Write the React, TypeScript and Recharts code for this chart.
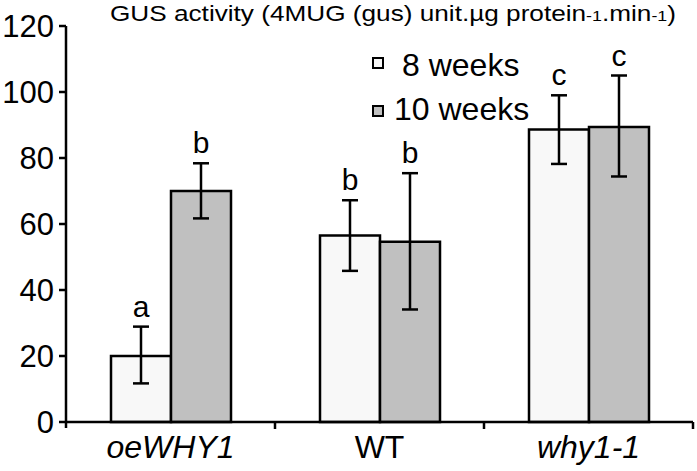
import React from "react";
import { BarChart, Bar, XAxis, YAxis, ErrorBar, LabelList } from "recharts";

const categories = ["oeWHY1", "WT", "why1-1"];
const weeks8 = [20, 56.5, 88.6];
const weeks10 = [70, 54.6, 89.4];
// [minus, plus] error for each bar
const err8: [number, number][] = [
  [8.3, 8.9],
  [10.7, 10.7],
  [10.4, 10.4],
];
const err10: [number, number][] = [
  [8.3, 8.4],
  [20.5, 20.8],
  [15, 15.6],
];
const letters8 = ["a", "b", "c"];
const letters10 = ["b", "b", "c"];
const yTicks = [0, 20, 40, 60, 80, 100, 120];
const seriesNames = ["8 weeks", "10 weeks"];
const seriesFills = ["#f8f8f8", "#c0c0c0"];

const data = categories.map((name, i) => ({
  name,
  w8: weeks8[i],
  w10: weeks10[i],
  e8: err8[i],
  e10: err10[i],
  l8: letters8[i],
  l10: letters10[i],
}));

const FONT = "'Liberation Sans', Arial, sans-serif";

const XTick = (props: any) => {
  const { x, y, payload, index } = props;
  const half = payload?.offset ?? 104.5;
  const italic = payload.value !== "WT";
  return (
    <g>
      <line x1={x + half} x2={x + half} y1={y} y2={y + 7} stroke="#000" strokeWidth={2.5} />
      {index === 0 && (
        <line x1={x - half} x2={x - half} y1={y} y2={y + 6} stroke="#000" strokeWidth={2.5} />
      )}
      <text
        x={x}
        y={y + 36}
        textAnchor="middle"
        fontSize={32}
        fontFamily={FONT}
        fontStyle={italic ? "italic" : "normal"}
        fill="#000"
      >
        {payload.value}
      </text>
    </g>
  );
};

const makeLetter = (vals: number[], errs: [number, number][], letters: string[]) =>
  (p: any) => {
    const { x, y, width, height, index } = p;
    const perUnit = height / vals[index];
    const top = y - errs[index][1] * perUnit;
    return (
      <text
        x={x + width / 2}
        y={top - 10}
        textAnchor="middle"
        fontSize={30}
        fontFamily={FONT}
        fill="#000"
      >
        {letters[index]}
      </text>
    );
  };

const App = () => {
  return (
    <div style={{ position: "absolute", left: 0, top: 0, width: 697, height: 471, background: "#fff" }}>
      <BarChart
        width={697}
        height={471}
        data={data}
        margin={{ top: 26, right: 4, left: 0, bottom: 0 }}
        barSize={60}
        barGap={0}
      >
        <XAxis
          dataKey="name"
          height={49}
          axisLine={{ stroke: "#000", strokeWidth: 2.5 }}
          tickLine={false}
          tickSize={0}
          tickMargin={0}
          tick={<XTick />}
          interval={0}
        />
        <YAxis
          width={66}
          domain={[0, 120]}
          ticks={yTicks}
          interval={0}
          axisLine={{ stroke: "#000", strokeWidth: 2.5 }}
          tickLine={{ stroke: "#000", strokeWidth: 2.5 }}
          tickSize={7}
          tickMargin={5}
          tick={{ fontSize: 31, fontFamily: FONT, fill: "#000" }}
        />
        <Bar
          dataKey="w8"
          name={seriesNames[0]}
          fill={seriesFills[0]}
          stroke="#000"
          strokeWidth={2.5}
          isAnimationActive={false}
        >
          <ErrorBar dataKey="e8" width={8} stroke="#000" strokeWidth={2.5} direction="y" />
          <LabelList dataKey="l8" content={makeLetter(weeks8, err8, letters8)} />
        </Bar>
        <Bar
          dataKey="w10"
          name={seriesNames[1]}
          fill={seriesFills[1]}
          stroke="#000"
          strokeWidth={2.5}
          isAnimationActive={false}
        >
          <ErrorBar dataKey="e10" width={8} stroke="#000" strokeWidth={2.5} direction="y" />
          <LabelList dataKey="l10" content={makeLetter(weeks10, err10, letters10)} />
        </Bar>
      </BarChart>
      <svg
        width={697}
        height={130}
        style={{ position: "absolute", left: 0, top: 0, pointerEvents: "none" }}
      >
        <text
          x={110}
          y={21}
          fontSize={22}
          fontFamily={FONT}
          fill="#000"
          textLength={566}
          lengthAdjust="spacingAndGlyphs"
        >
          GUS activity (4MUG (gus) unit.µg protein
          <tspan fontSize={15}>-1</tspan>
          .min
          <tspan fontSize={15}>-1</tspan>)
        </text>
        {/* legend */}
        <rect x={373} y={58} width={10} height={10} fill={seriesFills[0]} stroke="#000" strokeWidth={2} />
        <text x={402} y={76} fontSize={32} fontFamily={FONT} fill="#000">
          {seriesNames[0]}
        </text>
        <rect x={373} y={106} width={10} height={10} fill={seriesFills[1]} stroke="#000" strokeWidth={2} />
        <text x={394} y={120} fontSize={32} fontFamily={FONT} fill="#000">
          {seriesNames[1]}
        </text>
      </svg>
    </div>
  );
};

export default App;
